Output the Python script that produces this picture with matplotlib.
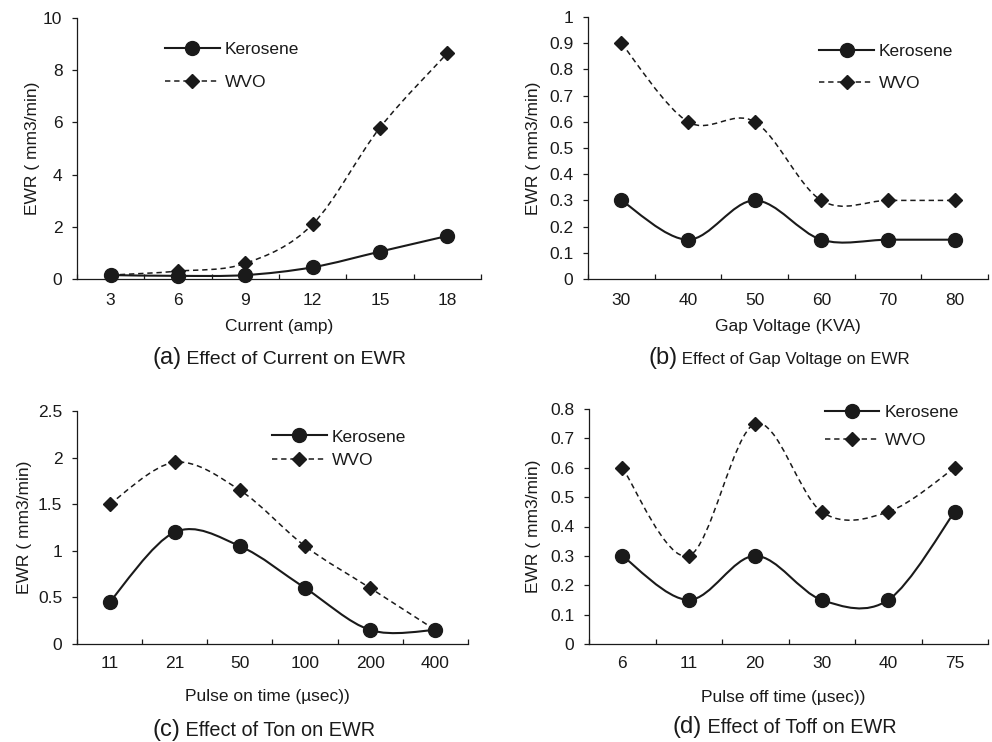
import matplotlib

matplotlib.use("Agg")
import matplotlib.pyplot as plt
from matplotlib.lines import Line2D
from matplotlib.patches import PathPatch
from matplotlib.path import Path
from matplotlib.ticker import FixedLocator, FuncFormatter

plt.rcParams["font.family"] = ["Liberation Sans", "DejaVu Sans"]
INK = "#1a1a1a"
FS = 12.5

# data
current = ["3", "6", "9", "12", "15", "18"]
current_kero = [0.15, 0.12, 0.15, 0.45, 1.05, 1.65]
current_wvo = [0.15, 0.3, 0.6, 2.1, 5.8, 8.65]

gap_voltage = ["30", "40", "50", "60", "70", "80"]
gap_kero = [0.3, 0.15, 0.3, 0.15, 0.15, 0.15]
gap_wvo = [0.9, 0.6, 0.6, 0.3, 0.3, 0.3]

ton = ["11", "21", "50", "100", "200", "400"]
ton_kero = [0.45, 1.2, 1.05, 0.6, 0.15, 0.15]
ton_wvo = [1.5, 1.95, 1.65, 1.05, 0.6, 0.15]

toff = ["6", "11", "20", "30", "40", "75"]
toff_kero = [0.3, 0.15, 0.3, 0.15, 0.15, 0.45]
toff_wvo = [0.6, 0.3, 0.75, 0.45, 0.45, 0.6]


def smooth_path(xs, ys):
    # Excel-like smoothed line: Catmull-Rom segments as cubic Beziers
    pts = list(zip(xs, ys))
    n = len(pts)
    verts = [pts[0]]
    codes = [Path.MOVETO]
    for i in range(n - 1):
        p0 = pts[max(i - 1, 0)]
        p1 = pts[i]
        p2 = pts[i + 1]
        p3 = pts[min(i + 2, n - 1)]
        c1 = (p1[0] + (p2[0] - p0[0]) / 6, p1[1] + (p2[1] - p0[1]) / 6)
        c2 = (p2[0] - (p3[0] - p1[0]) / 6, p2[1] - (p3[1] - p1[1]) / 6)
        verts += [c1, c2, p2]
        codes += [Path.CURVE4] * 3
    return Path(verts, codes)


KERO = dict(color=INK, lw=1.5, ls="-")
WVO = dict(color=INK, lw=1.1, ls=(0, (3.5, 2.5)))
CIRCLE_MS = 10
DIAMOND_MS = 7


def panel(rect, cats, kero, wvo, ymax, ystep, xlabel, xlab_pos, ylab_x, leg_anchor, leg_spacing, pad):
    L, T, R, B = rect
    W, H = 992, 742
    ax = fig.add_axes([L / W, 1 - B / H, (R - L) / W, (B - T) / H])
    x = list(range(len(cats)))
    for vals, st, mk, ms in [(wvo, WVO, "D", DIAMOND_MS), (kero, KERO, "o", CIRCLE_MS)]:
        ax.add_patch(PathPatch(smooth_path(x, vals), fill=False, edgecolor=st["color"],
                               lw=st["lw"], ls=st["ls"], zorder=2))
        ax.plot(x, vals, ls="none", marker=mk, ms=ms, color=INK, zorder=3, clip_on=False)
    ax.set_xlim(-0.5, len(cats) - 0.5)
    ax.set_ylim(0, ymax)
    ax.set_xticks(x)
    ax.set_xticklabels(cats)
    ax.xaxis.set_minor_locator(FixedLocator([i - 0.5 for i in range(len(cats) + 1)]))
    ax.tick_params(axis="x", which="major", length=0, pad=pad, labelsize=FS, colors=INK)
    ax.tick_params(axis="x", which="minor", direction="in", length=3.5, width=0.9, color=INK)
    nt = int(round(ymax / ystep))
    ax.set_yticks([i * ystep for i in range(nt + 1)])
    ax.yaxis.set_major_formatter(FuncFormatter(lambda v, p: f"{v:g}"))
    ax.tick_params(axis="y", direction="out", length=3.5, width=0.9, pad=7, labelsize=FS, colors=INK)
    for s in ["top", "right"]:
        ax.spines[s].set_visible(False)
    for s in ["left", "bottom"]:
        ax.spines[s].set_linewidth(0.9)
        ax.spines[s].set_color(INK)
    ax.set_xlabel(xlabel, fontsize=FS, color=INK)
    ax.xaxis.set_label_coords(*xlab_pos)
    ax.set_ylabel("EWR ( mm3/min)", fontsize=FS, color=INK)
    ax.yaxis.set_label_coords(ylab_x, 0.5)
    handles = [
        Line2D([], [], marker="o", ms=CIRCLE_MS, **KERO),
        Line2D([], [], marker="D", ms=DIAMOND_MS, **WVO),
    ]
    ax.legend(handles, ["Kerosene", "WVO"], loc="upper left", bbox_to_anchor=leg_anchor,
              frameon=False, fontsize=FS, handlelength=3.15, handletextpad=0.3,
              labelspacing=leg_spacing, borderpad=0, borderaxespad=0, labelcolor=INK)
    return ax


fig = plt.figure(figsize=(9.92, 7.42), dpi=100)

panel((77, 18, 481, 279), current, current_kero, current_wvo, 10, 2, "Current (amp)",
      (0.5, -0.155), -0.0916, (0.218, 0.910), 1.06, 10)
panel((588, 17, 988, 279), gap_voltage, gap_kero, gap_wvo, 1, 0.1, "Gap Voltage (KVA)",
      (0.5, -0.154), -0.1175, (0.578, 0.899), 1.0, 10)
panel((77, 411, 468, 644), ton, ton_kero, ton_wvo, 2.5, 0.5, "Pulse on time (µsec))",
      (0.486, -0.195), -0.115, (0.499, 0.921), 0.48, 9)
panel((589, 409, 988, 644), toff, toff_kero, toff_wvo, 0.8, 0.1, "Pulse off time (µsec))",
      (0.487, -0.194), -0.120, (0.591, 1.019), 0.77, 9)

# captions: larger "(x)" followed by smaller title text
renderer = fig.canvas.get_renderer()
captions = [
    ("(a)", " Effect of Current on EWR", 152, 364, 14),
    ("(b)", " Effect of Gap Voltage on EWR", 648, 364, 12.2),
    ("(c)", " Effect of Ton on EWR", 152, 736, 14.3),
    ("(d)", " Effect of Toff on EWR", 673, 733, 14.3),
]
for tag, body, px, py, fs in captions:
    t = fig.text(px / 992, 1 - py / 742, tag, fontsize=17, va="baseline", ha="left", color=INK)
    ext = t.get_window_extent(renderer)
    fig.text(ext.x1 / fig.bbox.width, 1 - py / 742, body, fontsize=fs, va="baseline",
             ha="left", color=INK)

fig.savefig("out.png", dpi=100)
